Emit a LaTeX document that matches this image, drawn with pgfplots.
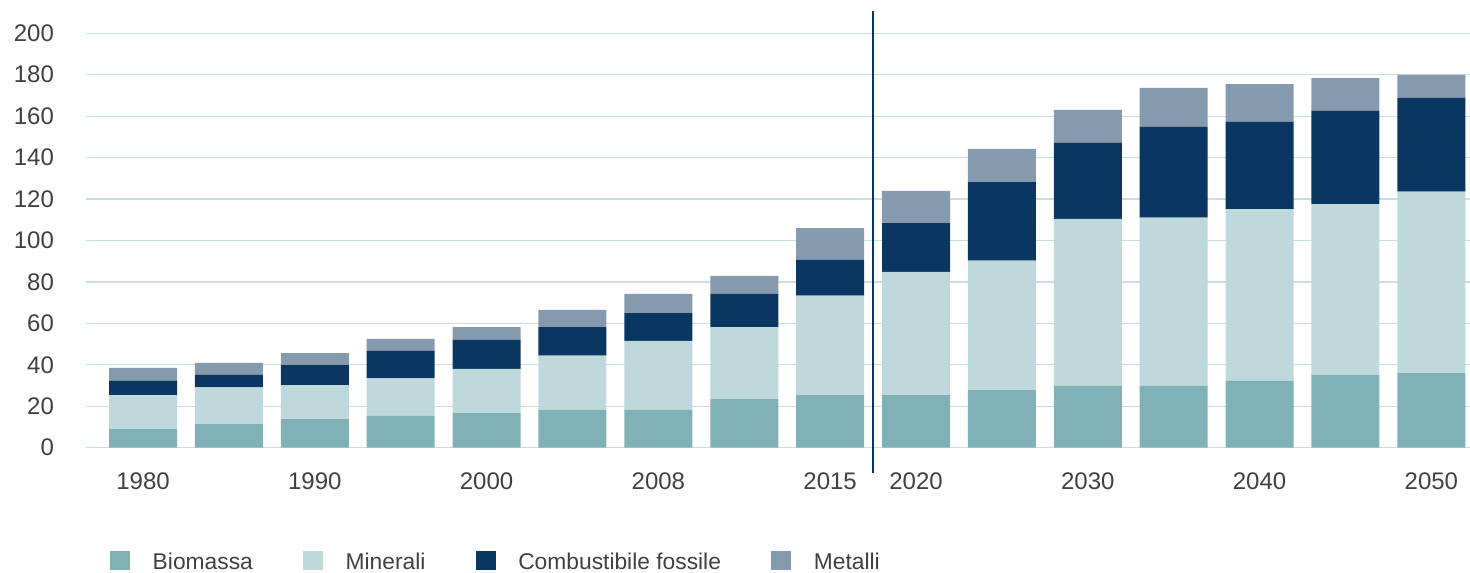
\documentclass[border=0pt]{standalone}
\usepackage{fontspec}
\setmainfont{Liberation Sans}
\usepackage{pgfplots}
\usepackage{pgfplotstable}
\pgfplotsset{compat=1.18}
\definecolor{bio}{HTML}{80B1B7}
\definecolor{mineral}{HTML}{BFD8DC}
\definecolor{fossil}{HTML}{0A3761}
\definecolor{metal}{HTML}{869AAE}
\definecolor{gridc}{HTML}{C8DFE3}
\definecolor{txt}{HTML}{404040}
\pgfplotstableread{
x bio min fos met
0 9.0 16.4 6.8 6.3
1 11.4 17.7 6.0 5.8
2 13.8 16.4 9.7 5.8
3 15.3 18.2 13.2 5.8
4 16.7 21.3 14.0 6.2
5 18.2 26.2 13.8 8.3
6 18.2 33.4 13.4 9.2
7 23.5 34.7 16.0 8.7
8 25.4 48.0 17.2 15.4
9 25.4 59.4 23.6 15.5
10 27.8 62.5 37.9 16.0
11 29.8 80.6 36.7 15.9
12 29.8 81.2 43.8 18.8
13 32.2 83.0 42.0 18.3
14 35.1 82.4 45.0 15.9
15 36.0 87.6 45.2 11.1
}\datatable
\begin{document}
\begin{tikzpicture}
\path[use as bounding box] (0,0) rectangle (735pt,286pt);
\begin{axis}[
  at={(43pt,62.15pt)}, anchor=south west,
  scale only axis, width=692pt, height=207.2pt,
  ybar stacked, bar width=34pt,
  xmin=-0.664, xmax=15.45, ymin=0, ymax=200,
  ytick={0,20,...,200},
  xtick={0,2,4,6,8,9,11,13,15},
  xticklabels={1980,1990,2000,2008,2015,2020,2030,2040,2050},
  axis line style={draw=none},
  major tick length=0pt,
  ymajorgrids,
  grid style={color=gridc, line width=0.6pt},
  tick label style={font=\fontsize{12}{14}\selectfont, text=txt},
  /pgf/number format/assume math mode=true,
  xticklabel style={yshift=-9pt},
  yticklabel style={xshift=-12.5pt},
  clip=false,
  legend columns=4,
  legend style={at={(0.0173,-0.2758)}, anchor=west, draw=none, fill=none,
    inner sep=0pt, font=\fontsize{11.4}{13}\selectfont, text=txt,
    nodes={inner sep=0pt},
    /tikz/every odd column/.style={column sep=11.3pt},
    /tikz/every even column/.style={column sep=25.2pt}},
]
\addlegendimage{legend image code/.code={\fill[bio] (0pt,-3.5pt) rectangle (9.5pt,5.5pt);}}
\addlegendimage{legend image code/.code={\fill[mineral] (0pt,-3.5pt) rectangle (9.5pt,5.5pt);}}
\addlegendimage{legend image code/.code={\fill[fossil] (0pt,-3.5pt) rectangle (9.5pt,5.5pt);}}
\addlegendimage{legend image code/.code={\fill[metal] (0pt,-3.5pt) rectangle (9.5pt,5.5pt);}}
\addplot[fill=bio, draw=none, forget plot] table[x=x, y=bio] {\datatable};
\addplot[fill=mineral, draw=none, forget plot] table[x=x, y=min] {\datatable};
\addplot[fill=fossil, draw=none, forget plot] table[x=x, y=fos] {\datatable};
\addplot[fill=metal, draw=none, forget plot] table[x=x, y=met] {\datatable};
\legend{Biomassa, Minerali, Combustibile fossile, Metalli}
\draw[color=fossil, line width=0.75pt] (axis cs:8.5,-12.2) -- (axis cs:8.5,210.8);
\end{axis}
\end{tikzpicture}
\end{document}
